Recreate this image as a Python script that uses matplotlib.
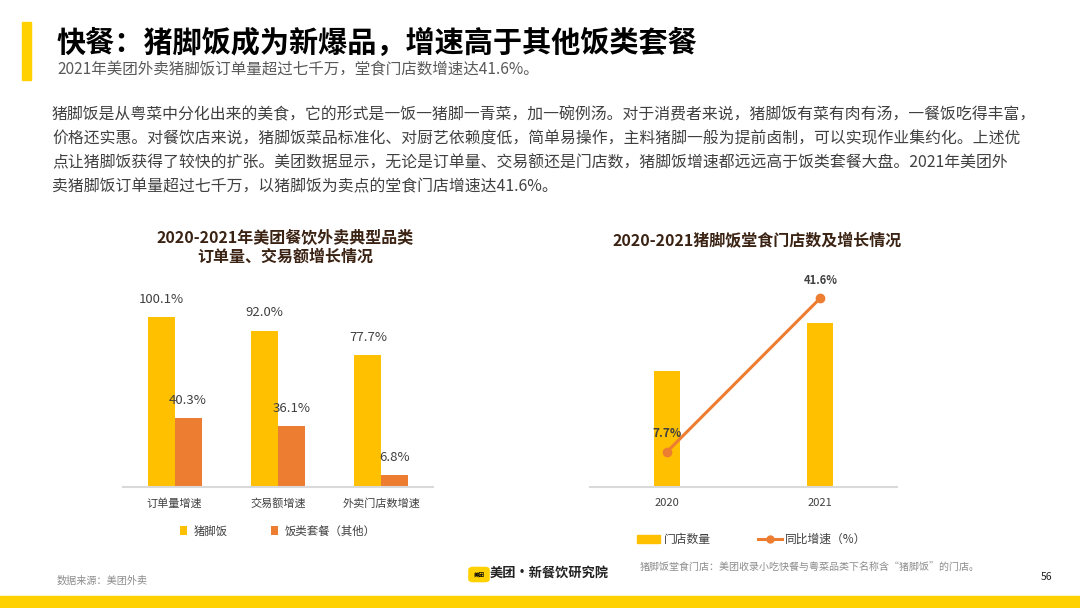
import matplotlib.pyplot as plt
from matplotlib.patches import Rectangle, FancyBboxPatch
from matplotlib.lines import Line2D

plt.rcParams['font.family'] = ['Noto Sans CJK SC', 'DejaVu Sans']

# left chart data
categories = ['订单量增速', '交易额增速', '外卖门店数增速']
zhujiaofan = [100.1, 92.0, 77.7]
other_sets = [40.3, 36.1, 6.8]
series_names = ['猪脚饭', '饭类套餐（其他）']

# right chart data (store count as index, 2020 = 100)
years = ['2020', '2021']
store_index = [100, 141.6]
growth = [7.7, 41.6]

YELLOW = '#FFC000'
ORANGE = '#ED7D31'
BROWN = '#3B2314'
GREY = '#404040'

W, H = 1080, 608
fig = plt.figure(figsize=(10.8, 6.08), dpi=100)


def box(x0, y0, x1, y1):
    # pixel box (top-left origin) -> figure fraction rect
    return [x0 / W, 1 - y1 / H, (x1 - x0) / W, (y1 - y0) / H]


def ftext(x, y, s, **kw):
    fig.text(x / W, 1 - y / H, s, **kw)


# header
fig.patches.append(Rectangle((22 / W, 1 - 80 / H), 9 / W, 58 / H,
                             transform=fig.transFigure, color='#FFD100'))
ftext(57, 43, '快餐：猪脚饭成为新爆品，增速高于其他饭类套餐', fontsize=21,
      fontweight='bold', color='black', va='center')
ftext(57, 70, '2021年美团外卖猪脚饭订单量超过七千万，堂食门店数增速达41.6%。',
      fontsize=11.2, color='#595959', va='center')

body = ['猪脚饭是从粤菜中分化出来的美食，它的形式是一饭一猪脚一青菜，加一碗例汤。对于消费者来说，猪脚饭有菜有肉有汤，一餐饭吃得丰富，',
        '价格还实惠。对餐饮店来说，猪脚饭菜品标准化、对厨艺依赖度低，简单易操作，主料猪脚一般为提前卤制，可以实现作业集约化。上述优',
        '点让猪脚饭获得了较快的扩张。美团数据显示，无论是订单量、交易额还是门店数，猪脚饭增速都远远高于饭类套餐大盘。2021年美团外',
        '卖猪脚饭订单量超过七千万，以猪脚饭为卖点的堂食门店增速达41.6%。']
for i, line in enumerate(body):
    ftext(52, 115 + i * 24, line, fontsize=11.4, color=GREY, va='center')

# left chart
ax = fig.add_axes(box(123, 300, 433, 487))
x = range(len(categories))
bw = 0.26
b1 = ax.bar([i - bw / 2 for i in x], zhujiaofan, bw, color=YELLOW, label=series_names[0])
b2 = ax.bar([i + bw / 2 for i in x], other_sets, bw, color=ORANGE, label=series_names[1])
for bars, vals in ((b1, zhujiaofan), (b2, other_sets)):
    for r, v in zip(bars, vals):
        ax.annotate(f'{v:.1f}%', (r.get_x() + r.get_width() / 2, v),
                    xytext=(0, 8), textcoords='offset points', ha='center',
                    va='bottom', fontsize=9.5, color=GREY)
ax.set_xlim(-0.5, 2.5)
ax.set_ylim(0, 110)
ax.set_xticks(list(x))
ax.set_xticklabels(categories, fontsize=8, color=GREY)
ax.tick_params(length=0, pad=8)
ax.set_yticks([])
for s in ('left', 'right', 'top'):
    ax.spines[s].set_visible(False)
ax.spines['bottom'].set_color('#D9D9D9')
ax.spines['bottom'].set_linewidth(1.5)
ax.legend(loc='upper center', bbox_to_anchor=(0.5, -0.15), ncol=2, frameon=False,
          fontsize=8.2, handlelength=0.6, handleheight=0.8, columnspacing=3.8,
          handletextpad=0.6, labelcolor=GREY)
ftext(285, 247, '2020-2021年美团餐饮外卖典型品类\n订单量、交易额增长情况', fontsize=11.5,
      fontweight='bold', color=BROWN, ha='center', va='center', linespacing=1.25)

# right chart
ax2 = fig.add_axes(box(590, 280, 897, 487))
xr = range(len(years))
ax2.bar(list(xr), store_index, 0.17, color=YELLOW)
ax2.set_xlim(-0.5, 1.5)
ax2.set_ylim(0, 178.4)
ax2.set_xticks(list(xr))
ax2.set_xticklabels(years, fontsize=8, color=GREY)
ax2.tick_params(length=0, pad=8)
ax2.set_yticks([])
for s in ('left', 'right', 'top'):
    ax2.spines[s].set_visible(False)
ax2.spines['bottom'].set_color('#D9D9D9')
ax2.spines['bottom'].set_linewidth(1.5)

ax3 = ax2.twinx()
ax3.plot(list(xr), growth, color=ORANGE, lw=2.2, marker='o', ms=6)
ax3.set_ylim(0, 45.6)
ax3.set_yticks([])
for s in ax3.spines.values():
    s.set_visible(False)
ax3.annotate(f'{growth[0]:.1f}%', (0, growth[0]), xytext=(0, 9), textcoords='offset points',
             ha='center', va='bottom', fontsize=8.5, fontweight='bold', color=GREY)
ax3.annotate(f'{growth[1]:.1f}%', (1, growth[1]), xytext=(0, 8), textcoords='offset points',
             ha='center', va='bottom', fontsize=8, fontweight='bold', color=GREY)

handles = [Rectangle((0, 0), 1, 1, color=YELLOW),
           Line2D([], [], color=ORANGE, lw=2.2, marker='o', ms=5)]
ax2.legend(handles, ['门店数量', '同比增速（%）'], loc='upper center',
           bbox_to_anchor=(0.526, -0.17), ncol=2, frameon=False, fontsize=8.5,
           handlelength=2.0, handleheight=0.7, columnspacing=4.0, handletextpad=0.3,
           labelcolor=GREY)
ftext(757, 241, '2020-2021猪脚饭堂食门店数及增长情况', fontsize=11.5,
      fontweight='bold', color=BROWN, ha='center', va='center')

# footer
ftext(57, 581, '数据来源：美团外卖', fontsize=7.3, color='#8C8C8C', va='center')
fig.patches.append(FancyBboxPatch((470 / W, 1 - 581 / H), 18 / W, 13 / H,
                                  boxstyle='round,pad=0.001,rounding_size=0.004',
                                  transform=fig.transFigure, color='#FFD100'))
ftext(479, 574.5, '美团', fontsize=4, color='black', ha='center', va='center',
      fontweight='bold')
ftext(490, 573, '美团·新餐饮研究院', fontsize=9.5, fontweight='bold', color='#222222',
      va='center')
ftext(640, 568, '猪脚饭堂食门店：美团收录小吃快餐与粤菜品类下名称含“猪脚饭”的门店。',
      fontsize=7.2, color='#8C8C8C', va='center')
ftext(1047, 577, '56', fontsize=7.5, color='#222222', va='center', ha='center')
fig.patches.append(Rectangle((0, 0), 1, 12 / H, transform=fig.transFigure,
                             color='#FFD100'))

fig.savefig('out.png', dpi=100)
